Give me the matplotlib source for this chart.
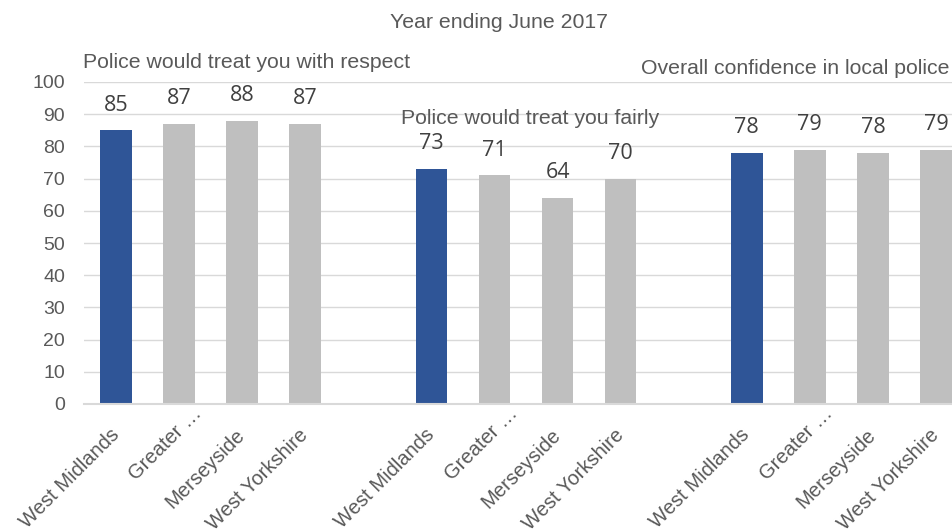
import numpy as np
import matplotlib
matplotlib.use("Agg")
import matplotlib.pyplot as plt
from matplotlib.transforms import ScaledTranslation

# survey measures, year ending June 2017
forces = ["West Midlands", "Greater …", "Merseyside", "West Yorkshire"]
measures = ["Police would treat you with respect",
            "Police would treat you fairly",
            "Overall confidence in local police"]
respect = [85, 87, 88, 87]
fairly = [73, 71, 64, 70]
confidence = [78, 79, 78, 79]

blue = "#2F5597"
grey = "#BFBFBF"
txt = "#595959"

plt.rcParams["font.family"] = ["Liberation Sans", "DejaVu Sans"]

W, H = 953, 529
fig = plt.figure(figsize=(W / 100, H / 100), dpi=100)
# plot area runs a bit past the right edge of the canvas
ax = fig.add_axes([84.5 / W, 125 / H, 883 / W, 322 / H])

groups = [respect, fairly, confidence]
xs, vals, labels = [], [], []
for g, series in enumerate(groups):
    for i, v in enumerate(series):
        xs.append(g * 5 + i)
        vals.append(v)
        labels.append(forces[i])
colors = [blue if lab == "West Midlands" else grey for lab in labels]

ax.bar(xs, vals, width=0.5, color=colors, zorder=3)
for x, v in zip(xs, vals):
    ax.annotate(str(v), (x, v), xytext=(0, 18), textcoords="offset points",
                ha="center", va="center", fontsize=15.5, color="#404040",
                family=["Open Sans", "DejaVu Sans"])

ax.set_xlim(-0.5, 13.5)
ax.set_ylim(0, 100)
ax.set_yticks(np.arange(0, 101, 10))
ax.yaxis.grid(True, color="#D9D9D9", linewidth=1.0, zorder=0)
ax.set_xticks(xs)
ax.set_xticklabels(labels, rotation=45, ha="right", va="center",
                   rotation_mode="anchor")
ax.tick_params(axis="x", length=0, pad=20, labelsize=14.5, labelcolor=txt)
ax.tick_params(axis="y", length=0, pad=14, labelsize=14, labelcolor=txt)

# truncated names sit further along the diagonal
shift = ScaledTranslation(0.20, 0.21, fig.dpi_scale_trans)
for lab in ax.get_xticklabels():
    if lab.get_text().endswith("…"):
        lab.set_transform(lab.get_transform() + shift)

for side in ["top", "right", "left"]:
    ax.spines[side].set_visible(False)
ax.spines["bottom"].set_color("#D9D9D9")
ax.spines["bottom"].set_linewidth(1.5)
ax.spines["bottom"].set_zorder(4)

# headings
fig.text(499 / W, 1 - 23 / H, "Year ending June 2017", ha="center", va="center",
         fontsize=15.3, color=txt)
fig.text(83 / W, 1 - 62 / H, measures[0], ha="left", va="center",
         fontsize=15.3, color=txt)
fig.text(401 / W, 1 - 118 / H, measures[1], ha="left", va="center",
         fontsize=15.3, color=txt)
fig.text(950 / W, 1 - 68 / H, measures[2], ha="right", va="center",
         fontsize=15.3, color=txt)

fig.savefig("out.png", dpi=100)
